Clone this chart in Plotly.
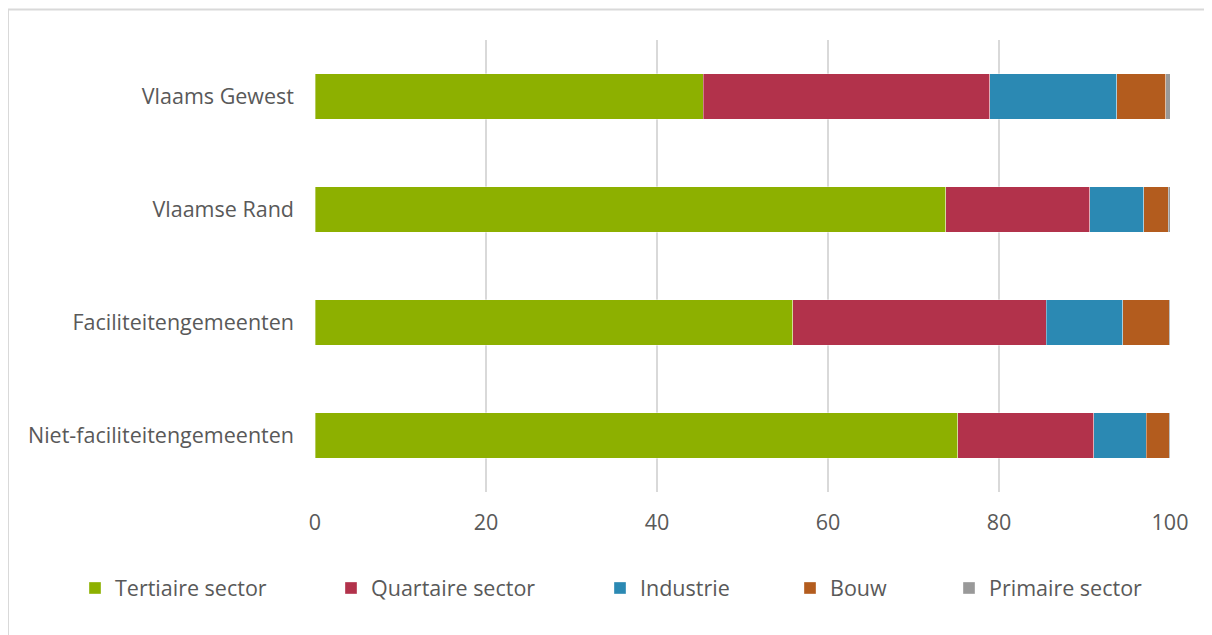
import plotly.graph_objects as go

categories = ["Vlaams Gewest", "Vlaamse Rand", "Faciliteitengemeenten", "Niet-faciliteitengemeenten"]
tertiaire = [45.4, 73.8, 55.9, 75.2]
quartaire = [33.5, 16.8, 29.6, 15.9]
industrie = [14.9, 6.3, 9.0, 6.1]
bouw = [5.7, 2.9, 5.4, 2.7]
primaire = [0.5, 0.2, 0.1, 0.1]

series_names = ["Tertiaire sector", "Quartaire sector", "Industrie", "Bouw", "Primaire sector"]
series_values = [tertiaire, quartaire, industrie, bouw, primaire]
series_colors = ["#8db000", "#b2324b", "#2b89b3", "#b35c1e", "#999999"]

x_ticks = [0, 20, 40, 60, 80, 100]

# figure pixel geometry (page body adds an 8px offset)
W, H = 1204, 627
L, R, T, B = 307, 1162, 32, 484
legend_px = [67, 323, 592, 782, 941]
legend_ypx = 580


def px_x(p):
    return (p - L) / (R - L)


def px_y(p):
    return (B - p) / (B - T)


fig = go.Figure()
legend_layouts = {}
for i, (name, vals, col) in enumerate(zip(series_names, series_values, series_colors)):
    lg = "legend" if i == 0 else f"legend{i + 1}"
    fig.add_trace(go.Bar(
        y=categories, x=vals, name=name, orientation="h", legend=lg, showlegend=True,
        marker=dict(color=col, line=dict(color="rgba(255,255,255,0.45)", width=0.8)),
    ))
    legend_layouts[lg] = dict(
        orientation="h", x=px_x(legend_px[i]), xanchor="left",
        y=px_y(legend_ypx), yanchor="middle", bgcolor="rgba(0,0,0,0)",
        font=dict(family="Open Sans", size=21.5, color="#595959"),
        itemclick=False, itemdoubleclick=False,
    )

fig.update_layout(
    width=W, height=H,
    showlegend=True,
    barmode="stack", bargap=0.6,
    paper_bgcolor="white", plot_bgcolor="white",
    margin=dict(l=L, r=W - R, t=T, b=H - B, pad=0),
    font=dict(family="Open Sans", size=21.5, color="#595959"),
    xaxis=dict(range=[0, 100], tickvals=x_ticks, showgrid=True, gridcolor="#d9d9d9",
               gridwidth=1.5, zeroline=False, showline=False, ticks="",
               ticklabelstandoff=15, tickfont=dict(size=21.5, color="#595959")),
    yaxis=dict(autorange="reversed", showgrid=False, zeroline=False, showline=False,
               ticks="", ticklabelstandoff=20, tickfont=dict(size=21.5, color="#595959")),
    shapes=[dict(type="rect", xref="paper", yref="paper",
                 x0=px_x(0), x1=px_x(1300),
                 y0=px_y(700), y1=px_y(1.5),
                 line=dict(color="#d9d9d9", width=2), fillcolor="rgba(0,0,0,0)", layer="below")],
    **legend_layouts,
)

fig.write_html("out.html")
